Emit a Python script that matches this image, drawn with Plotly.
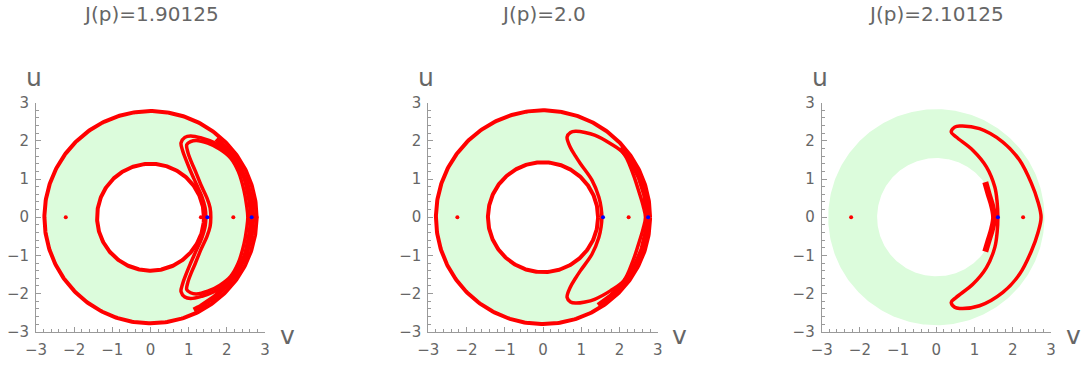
import numpy as np
import plotly.graph_objects as go

W, H = 1082, 365

titles = ["J(p)=1.90125", "J(p)=2.0", "J(p)=2.10125"]
tick_vals = [-3, -2, -1, 0, 1, 2, 3]

# Hill-region annulus (green) radii per panel
fill_inner = [1.40, 1.44, 1.55]
fill_outer = [2.78, 2.80, 2.83]

# red boundary circles (panels 1 and 2 only)
circle_radii = [[1.40, 2.78], [1.44, 2.80], []]

# chaotic band along right side of outer circle: radius, start angle, end angle (deg)
band_r = [2.68, 2.72, None]
band_a0 = [50, 42, None]
band_a1 = [-65, -58, None]

# crescent curves (upper half), outer side and inner side, from tip to u=0
cres = [
    [
        ([0.80, 0.90, 1.05, 1.35, 1.65, 1.95, 2.20, 2.40, 2.53, 2.60, 2.62],
         [1.95, 2.09, 2.13, 2.07, 1.96, 1.77, 1.57, 1.20, 0.70, 0.30, 0.00],
         [0.80, 0.84, 0.93, 1.04, 1.20, 1.35, 1.43, 1.45],
         [1.95, 1.75, 1.50, 1.23, 0.87, 0.53, 0.25, 0.00]),
        ([0.95, 1.05, 1.20, 1.50, 1.82, 2.10, 2.30, 2.45, 2.52, 2.55],
         [1.90, 1.98, 2.01, 1.94, 1.78, 1.55, 1.20, 0.70, 0.30, 0.00],
         [0.95, 0.98, 1.07, 1.17, 1.32, 1.48, 1.56, 1.58],
         [1.90, 1.70, 1.45, 1.22, 0.85, 0.50, 0.25, 0.00]),
    ],
    [
        ([0.63, 0.72, 0.85, 1.10, 1.35, 1.76, 2.11, 2.35, 2.50, 2.62, 2.68],
         [2.10, 2.22, 2.25, 2.22, 2.15, 1.93, 1.67, 1.15, 0.70, 0.30, 0.00],
         [0.63, 0.71, 0.85, 0.98, 1.28, 1.46, 1.52, 1.54],
         [2.10, 1.84, 1.60, 1.40, 0.97, 0.53, 0.25, 0.00]),
    ],
    [
        ([0.39, 0.48, 0.61, 1.13, 1.74, 2.18, 2.49, 2.66, 2.74],
         [2.23, 2.36, 2.39, 2.32, 1.97, 1.49, 0.88, 0.40, 0.00],
         [0.39, 0.52, 0.96, 1.31, 1.53, 1.59, 1.61],
         [2.23, 2.10, 1.75, 1.32, 0.79, 0.40, 0.00]),
    ],
]

# chaotic cluster in panel 3
clus_v = [1.28, 1.37, 1.46, 1.51, 1.46, 1.37, 1.28]
clus_u = [0.92, 0.60, 0.30, 0.00, -0.30, -0.60, -0.90]

# fixed points
red_pts = [[-2.22, 1.32, 2.17, 2.78], [-2.24, 2.24], [-2.23, 2.27]]
blue_pts = [[1.49, 2.65], [1.57, 2.75], [1.61]]

# panel placement (pixels)
x_px = [(36, 265), (428.3, 657.7), (821.7, 1051)]
y_px = (102.7, 331.7)

RED = "#ff0000"
GREEN = "#dcfcdc"
AX = "#9a9a9a"
TXT = "#666666"
FONT = "DejaVu Sans"

fig = go.Figure()
th = np.linspace(0, 2 * np.pi, 361)

for i in range(3):
    xa = "x" if i == 0 else f"x{i+1}"
    ya = "y" if i == 0 else f"y{i+1}"
    ro, ri = fill_outer[i], fill_inner[i]
    fx = np.concatenate([ro * np.cos(th), ri * np.cos(th[::-1])])
    fy = np.concatenate([ro * np.sin(th), ri * np.sin(th[::-1])])
    fig.add_trace(go.Scatter(x=fx, y=fy, mode="lines", fill="toself",
                             fillcolor=GREEN, line=dict(width=0),
                             xaxis=xa, yaxis=ya, hoverinfo="skip"))
    for r in circle_radii[i]:
        fig.add_trace(go.Scatter(x=r * np.cos(th), y=r * np.sin(th), mode="lines",
                                 line=dict(color=RED, width=4),
                                 xaxis=xa, yaxis=ya, hoverinfo="skip"))
    if band_r[i] is not None:
        a = np.radians(np.linspace(band_a0[i], band_a1[i], 80))
        fig.add_trace(go.Scatter(x=band_r[i] * np.cos(a), y=band_r[i] * np.sin(a),
                                 mode="lines", line=dict(color=RED, width=5),
                                 xaxis=xa, yaxis=ya, hoverinfo="skip"))
    for ov, ou, iv, iu in cres[i]:
        ov, ou, iv, iu = map(np.array, (ov, ou, iv, iu))
        lx = np.concatenate([ov, ov[::-1][1:], iv[1:], iv[::-1][1:]])
        ly = np.concatenate([ou, -ou[::-1][1:], -iu[1:], iu[::-1][1:]])
        fig.add_trace(go.Scatter(x=lx, y=ly, mode="lines",
                                 line=dict(color=RED, width=3.5, shape="spline", smoothing=1.0),
                                 xaxis=xa, yaxis=ya, hoverinfo="skip"))
    if i == 2:
        fig.add_trace(go.Scatter(x=clus_v, y=clus_u, mode="lines",
                                 line=dict(color=RED, width=6, shape="spline"),
                                 xaxis=xa, yaxis=ya, hoverinfo="skip"))
    fig.add_trace(go.Scatter(x=red_pts[i], y=[0] * len(red_pts[i]), mode="markers",
                             marker=dict(color=RED, size=4), xaxis=xa, yaxis=ya))
    fig.add_trace(go.Scatter(x=blue_pts[i], y=[0] * len(blue_pts[i]), mode="markers",
                             marker=dict(color="#0000ff", size=4), xaxis=xa, yaxis=ya))

axis_common = dict(range=[-3, 3], showgrid=False, zeroline=False, showline=True,
                   linecolor=AX, linewidth=1, ticks="inside", ticklen=5, tickcolor=AX,
                   tickvals=tick_vals, tickfont=dict(size=15, color=TXT, family=FONT),
                   minor=dict(ticks="inside", ticklen=3, tickcolor=AX, dtick=0.2),
                   fixedrange=True, automargin=False)

layout = dict(width=W, height=H, autosize=False, margin=dict(l=0, r=0, t=0, b=0, pad=0),
              paper_bgcolor="white", plot_bgcolor="white", showlegend=False)
ydom = [1 - y_px[1] / H, 1 - y_px[0] / H]
annotations = []
for i in range(3):
    xk = "xaxis" if i == 0 else f"xaxis{i+1}"
    yk = "yaxis" if i == 0 else f"yaxis{i+1}"
    xdom = [x_px[i][0] / W, x_px[i][1] / W]
    layout[xk] = dict(axis_common, domain=xdom, anchor="y" if i == 0 else f"y{i+1}",
                      ticklabelstandoff=4)
    layout[yk] = dict(axis_common, domain=ydom, anchor="x" if i == 0 else f"x{i+1}",
                      ticklabelstandoff=3)
    cx = (x_px[i][0] + x_px[i][1]) / 2
    annotations.append(dict(text=titles[i], x=cx / W, y=1 - 14 / H, xref="paper", yref="paper",
                            showarrow=False, font=dict(size=20, color=TXT, family=FONT),
                            xanchor="center", yanchor="middle"))
    annotations.append(dict(text="u", x=(x_px[i][0] - 2) / W, y=1 - 77 / H, xref="paper",
                            yref="paper", showarrow=False,
                            font=dict(size=25, color=TXT, family=FONT),
                            xanchor="center", yanchor="middle"))
    annotations.append(dict(text="v", x=(x_px[i][1] + 22) / W, y=1 - 335 / H, xref="paper",
                            yref="paper", showarrow=False,
                            font=dict(size=25, color=TXT, family=FONT),
                            xanchor="center", yanchor="middle"))
layout["annotations"] = annotations
fig.update_layout(**layout)
fig.write_html("out.html", config={"displayModeBar": False},
               post_script="document.body.style.margin='0px';document.body.style.overflow='hidden';")
